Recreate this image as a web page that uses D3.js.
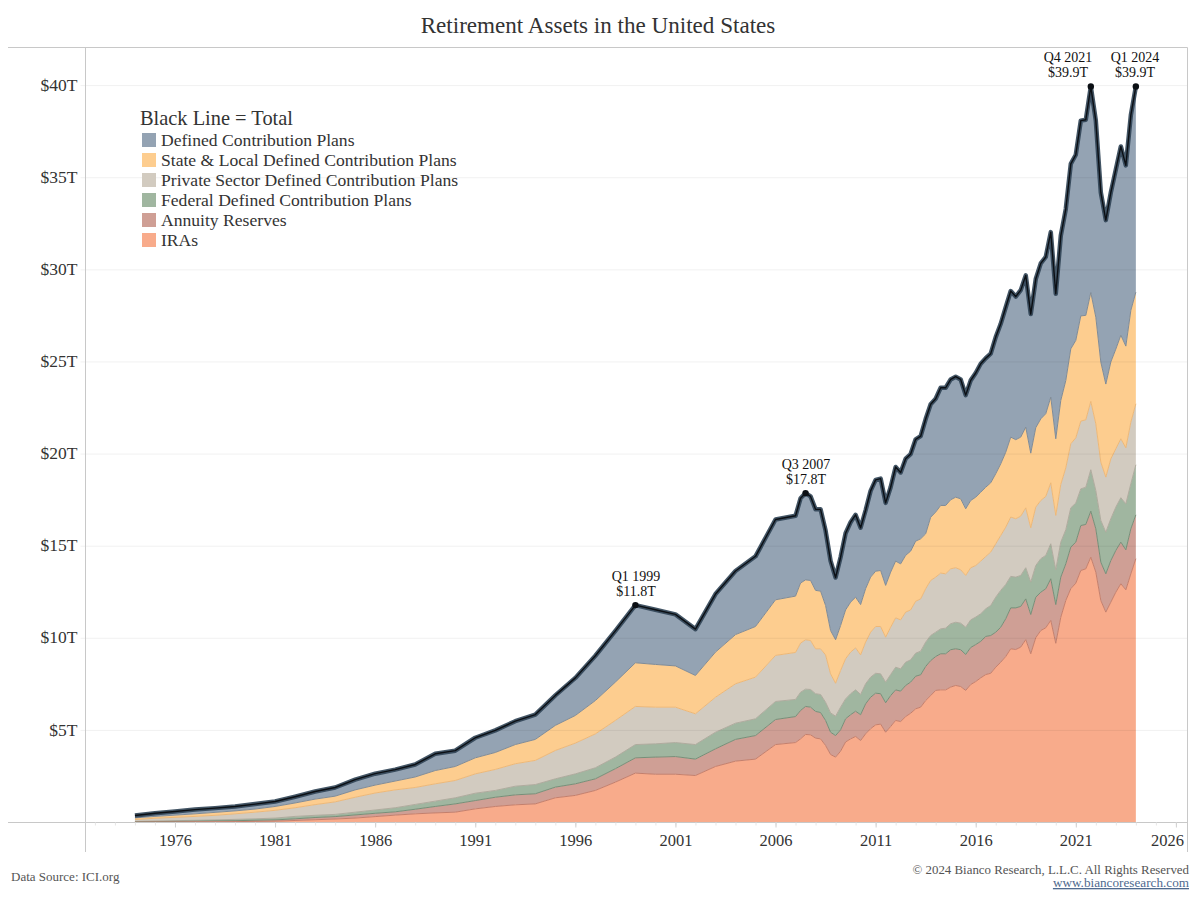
<!DOCTYPE html>
<html>
<head>
<meta charset="utf-8">
<script src="https://cdn.jsdelivr.net/npm/d3@7"></script>
<style>
  body { margin: 0; background: #fff; }
  svg { display: block; }
  text { font-family: "Liberation Serif", serif; fill: #333; }
</style>
</head>
<body>
<svg id="chart" width="1200" height="900"></svg>
<script>
// Annual points up to 2006, quarterly after that
const periods = [...d3.range(1974, 2007), ...d3.range(2007, 2024.25, 0.25)];

// Values in $T: the height of each band's top edge in the stack
const total = [
  .38,.5,.6,.7,.78,.87,1.0,1.14,1.4,1.68,1.9,2.33,2.65,2.87,3.15,3.73,3.9,4.6,5.0,5.5,5.86,6.9,7.85,9.05,10.4,11.8,
  11.55,11.3,10.5,12.4,13.65,14.45,16.45,
  16.65,17.6,17.88,17.7,17.0,17.0,15.85,14.2,13.3,
  14.4,15.7,16.3, 16.7,16.0,16.95,18.0, 18.6,18.67,17.35,18.2, 19.3,19.0,19.75,20.0, 20.8,20.97,21.9,22.7, 23.0,23.6,23.6,24.05, 24.2,24.05,23.2,
  24.0, 24.4,24.9,25.2,25.45, 26.35,27.07,27.97,28.85, 28.55,28.9,29.7,27.6, 29.5,30.35,30.7,32.05, 28.7,31.85,33.3,35.75, 36.25,38.1,38.15,39.95, 38.1,34.2,32.7,34.2, 35.45,36.7,35.67,38.4, 39.95
];
const stateLocal = [
  .25,.33,.4,.47,.55,.63,.73,.87,1.06,1.27,1.43,1.77,2.03,2.25,2.47,2.82,3.04,3.51,3.8,4.23,4.51,5.27,5.81,6.62,7.62,8.67,
  8.58,8.5,7.98,9.25,10.2,10.64,12.09,
  12.29,13.0,13.17,13.14,12.6,12.56,11.78,10.42,9.92,
  10.69,11.54,11.96, 12.23,11.83,12.69,13.32, 13.64,13.68,12.87,13.59, 14.19,14.04,14.5,14.73, 15.27,15.4,15.67,16.57, 16.85,17.21,17.21,17.52, 17.66,17.57,17.03,
  17.48, 17.66,17.93,18.2,18.44, 18.93,19.47,20.1,20.92, 20.78,20.92,21.46,20.05, 21.43,21.91,22.19,23.09, 20.83,22.91,23.99,25.71, 26.17,27.5,27.53,28.77, 27.43,24.99,23.8,25.0, 25.7,26.45,25.86,27.8, 28.79
];
const privateSector = [
  .16,.23,.28,.33,.39,.47,.56,.66,.8,.97,1.12,1.37,1.6,1.77,1.9,2.1,2.28,2.64,2.88,3.19,3.37,3.91,4.31,4.81,5.54,6.3,
  6.26,6.26,5.9,6.8,7.53,7.89,9.07,
  9.23,9.74,9.92,9.88,9.43,9.43,9.1,8.07,7.56,
  8.25,8.89,9.25, 9.48,9.1,9.79,10.33, 10.64,10.64,10.06,10.6, 11.11,11.0,11.42,11.54, 12.01,12.14,12.69,13.14, 13.32,13.54,13.5,13.77, 13.83,13.72,13.41,
  13.83, 13.95,14.19,14.44,14.68, 15.13,15.58,16.03,16.58, 16.49,16.63,17.08,16.0, 17.12,17.48,17.7,18.44, 16.67,18.35,19.25,20.56, 20.88,21.79,21.86,22.86, 21.64,19.56,18.75,19.74, 20.29,20.83,20.34,21.73, 22.73
];
const federal = [
  .06,.08,.1,.12,.14,.17,.2,.24,.33,.39,.44,.56,.68,.8,.98,1.16,1.34,1.59,1.74,1.97,2.06,2.37,2.64,2.97,3.55,4.23,
  4.27,4.34,4.23,4.9,5.39,5.63,6.57,
  6.68,7.07,7.24,7.22,6.99,6.95,6.53,5.95,5.77,
  6.26,6.71,6.99, 7.2,6.95,7.53,7.89, 8.1,8.07,7.62,8.03, 8.43,8.34,8.7,8.83, 9.19,9.3,9.79,10.15, 10.33,10.51,10.55,10.79, 10.87,10.82,10.6,
  11.0, 11.15,11.33,11.6,11.78, 12.23,12.6,12.92,13.36, 13.32,13.41,13.83,13.05, 13.95,14.32,14.5,15.13, 13.72,15.22,15.89,17.08, 17.34,18.11,18.2,19.15, 18.02,16.4,15.76,16.49, 17.12,17.63,17.3,18.39, 19.42
];
const annuity = [
  .04,.05,.06,.07,.09,.1,.12,.14,.2,.27,.32,.41,.5,.58,.72,.87,1.01,1.19,1.37,1.5,1.56,1.92,2.1,2.37,2.92,3.51,
  3.55,3.58,3.44,4.0,4.51,4.72,5.59,
  5.75,6.08,6.3,6.26,6.03,5.97,5.54,4.9,4.72,
  5.03,5.63,5.85, 6.04,5.85,6.44,6.8, 7.02,6.99,6.5,6.89, 7.2,7.13,7.44,7.62, 7.94,8.02,8.47,8.79, 9.01,9.16,9.16,9.38, 9.43,9.38,9.12,
  9.5, 9.66,9.83,10.1,10.15, 10.33,10.6,11.06,11.65, 11.65,11.73,12.14,11.29, 12.23,12.5,12.69,13.23, 11.83,13.32,14.04,14.95, 15.22,16.12,16.18,16.9, 15.94,14.13,13.5,14.22, 14.77,15.22,14.8,15.94, 16.7
];
const iras = [
  .02,.03,.03,.04,.04,.05,.06,.07,.11,.15,.19,.24,.32,.4,.47,.52,.56,.74,.87,.96,1.01,1.34,1.47,1.74,2.19,2.68,
  2.62,2.62,2.55,3.04,3.33,3.44,4.23,
  4.34,4.54,4.78,4.76,4.58,4.54,4.18,3.69,3.55,
  3.87,4.37,4.54, 4.67,4.45,4.81,5.09, 5.3,5.34,4.9,5.21, 5.54,5.48,5.75,5.93, 6.17,6.26,6.62,6.89, 7.17,7.2,7.2,7.35, 7.44,7.38,7.17,
  7.49, 7.65,7.85,8.03,8.1, 8.43,8.7,9.01,9.43, 9.39,9.52,9.93,9.16, 10.03,10.42,10.57,10.97, 9.73,11.14,12.05,12.69, 12.99,13.68,13.77,14.4, 13.59,12.05,11.42,11.96, 12.5,12.96,12.63,13.5, 14.32
];

const legendNames = [
  "Defined Contribution Plans",
  "State & Local Defined Contribution Plans",
  "Private Sector Defined Contribution Plans",
  "Federal Defined Contribution Plans",
  "Annuity Reserves",
  "IRAs"
];
const bandColors = ["#94a3b3", "#fdcd8f", "#d2cbc0", "#a0b6a0", "#cf9f95", "#f8ab8b"];
const edgeColors = ["none", "#7f8b97", "#eeb877", "#b0ab9e", "#768f78", "#c47f6c"];

const xTicks = d3.range(1976, 2027, 5);
const xMinorTicks = d3.range(1972, 2027);
const yTicks = d3.range(5, 45, 5);

// Labelled peaks: period, total
const peaks = [
  { period: 1999, label: "Q1 1999", amount: "$11.8T", value: 11.8, textX: 636, textY: 581 },
  { period: 2007.5, label: "Q3 2007", amount: "$17.8T", value: 17.88, textX: 806, textY: 469 },
  { period: 2021.75, label: "Q4 2021", amount: "$39.9T", value: 39.95, textX: 1068, textY: 62 },
  { period: 2024, label: "Q1 2024", amount: "$39.9T", value: 39.95, textX: 1135, textY: 62 }
];

const svg = d3.select("#chart");
const plotLeft = 85.5, plotRight = 1187.5, plotTop = 47.5, plotBottom = 822.5;

const x = d3.scaleLinear().domain([1971.53, 2026.58]).range([plotLeft, plotRight]);
const y = d3.scaleLinear().domain([0, 42.07]).range([plotBottom, plotTop]);

// Bands, top of the stack first
const tops = [total, stateLocal, privateSector, federal, annuity, iras];
const floors = [stateLocal, privateSector, federal, annuity, iras, periods.map(() => 0)];

tops.forEach((top, k) => {
  const area = d3.area()
    .x((d, i) => x(periods[i]))
    .y0((d, i) => y(floors[k][i]))
    .y1((d, i) => y(top[i]));
  svg.append("path")
    .attr("d", area(periods))
    .attr("fill", bandColors[k]);
});

tops.forEach((top, k) => {
  if (edgeColors[k] === "none") return;
  const edge = d3.line().x((d, i) => x(periods[i])).y((d, i) => y(top[i]));
  svg.append("path")
    .attr("d", edge(periods))
    .attr("fill", "none")
    .attr("stroke", edgeColors[k])
    .attr("stroke-width", 1);
});

// Gridlines show faintly through the bands
svg.selectAll(".grid")
  .data(yTicks)
  .join("line")
  .attr("class", "grid")
  .attr("x1", plotLeft - 5)
  .attr("x2", plotRight)
  .attr("y1", d => y(d))
  .attr("y2", d => y(d))
  .attr("stroke", "#000")
  .attr("stroke-opacity", 0.06);

// Frame
const frameColor = "#c8c8c8";
svg.append("line").attr("x1", 8).attr("x2", plotRight).attr("y1", plotTop).attr("y2", plotTop).attr("stroke", frameColor);
svg.append("line").attr("x1", 8).attr("x2", plotRight).attr("y1", plotBottom).attr("y2", plotBottom).attr("stroke", frameColor);
svg.append("line").attr("x1", plotLeft).attr("x2", plotLeft).attr("y1", plotTop).attr("y2", 852).attr("stroke", frameColor);
svg.append("line").attr("x1", plotRight).attr("x2", plotRight).attr("y1", plotTop).attr("y2", 852).attr("stroke", frameColor);

// Axes
const yAxis = svg.append("g")
  .attr("transform", `translate(${plotLeft},-1)`)
  .call(d3.axisLeft(y).tickValues(yTicks).tickSize(0).tickPadding(8).tickFormat(d => `$${d}T`));
yAxis.select(".domain").remove();
yAxis.selectAll("text").attr("font-size", 17.5).style("font-family", "Liberation Serif").attr("fill", "#333");

const xMinor = svg.append("g")
  .attr("transform", `translate(0,${plotBottom})`)
  .call(d3.axisBottom(x).tickValues(xMinorTicks).tickSize(3).tickFormat(""));
xMinor.select(".domain").remove();
xMinor.selectAll("line").attr("stroke", "#e6e6e6");

const xAxis = svg.append("g")
  .attr("transform", `translate(0,${plotBottom})`)
  .call(d3.axisBottom(x).tickValues(xTicks).tickSize(5).tickPadding(7).tickFormat(d3.format("d")));
xAxis.select(".domain").remove();
xAxis.selectAll("line").attr("stroke", "#d0d0d0");
xAxis.selectAll("text")
  .attr("font-size", 16.5)
  .style("font-family", "Liberation Serif")
  .attr("fill", "#333")
  .attr("dx", d => d === 2026 ? -9 : 0);

// Total line: wide slate stroke with a thin black core
const totalLine = d3.line().x((d, i) => x(periods[i])).y((d, i) => y(total[i]));
svg.append("path")
  .attr("d", totalLine(periods))
  .attr("fill", "none")
  .attr("stroke", "#2f4254")
  .attr("stroke-opacity", 0.9)
  .attr("stroke-width", 4.5)
  .attr("stroke-linejoin", "round");
svg.append("path")
  .attr("d", totalLine(periods))
  .attr("fill", "none")
  .attr("stroke", "#0b0f14")
  .attr("stroke-width", 1.4)
  .attr("stroke-linejoin", "round");

// Peak markers and labels
svg.selectAll(".peak")
  .data(peaks)
  .join("circle")
  .attr("class", "peak")
  .attr("cx", d => x(d.period))
  .attr("cy", d => y(d.value))
  .attr("r", 3.2)
  .attr("fill", "#0b0f14");

const peakLabels = svg.selectAll(".peak-label")
  .data(peaks)
  .join("text")
  .attr("class", "peak-label")
  .attr("text-anchor", "middle")
  .attr("font-size", 14)
  .style("fill", "#111");
peakLabels.append("tspan").attr("x", d => d.textX).attr("y", d => d.textY).text(d => d.label);
peakLabels.append("tspan").attr("x", d => d.textX).attr("y", d => d.textY + 15).text(d => d.amount);

// Title
svg.append("text")
  .attr("x", 598)
  .attr("y", 33)
  .attr("text-anchor", "middle")
  .attr("font-size", 23.1)
  .text("Retirement Assets in the United States");

// Legend
svg.append("text")
  .attr("x", 140)
  .attr("y", 125)
  .attr("font-size", 20.4)
  .text("Black Line = Total");

const legendRows = svg.selectAll(".legend-row")
  .data(legendNames)
  .join("g")
  .attr("class", "legend-row")
  .attr("transform", (d, i) => `translate(142,${133 + i * 20})`);
legendRows.append("rect")
  .attr("width", 14)
  .attr("height", 14)
  .attr("fill", (d, i) => bandColors[i]);
legendRows.append("text")
  .attr("x", 19)
  .attr("y", 12.5)
  .attr("font-size", 17.6)
  .text(d => d);

// Footer
svg.append("text")
  .attr("x", 11)
  .attr("y", 881)
  .attr("font-size", 13)
  .style("fill", "#555")
  .text("Data Source: ICI.org");
svg.append("text")
  .attr("x", 1189)
  .attr("y", 874)
  .attr("text-anchor", "end")
  .attr("font-size", 12.9)
  .style("fill", "#555")
  .text("© 2024 Bianco Research, L.L.C. All Rights Reserved");
svg.append("text")
  .attr("x", 1189)
  .attr("y", 887)
  .attr("text-anchor", "end")
  .attr("font-size", 13.2)
  .attr("text-decoration", "underline")
  .style("fill", "#4f6a8f")
  .text("www.biancoresearch.com");
</script>
</body>
</html>
